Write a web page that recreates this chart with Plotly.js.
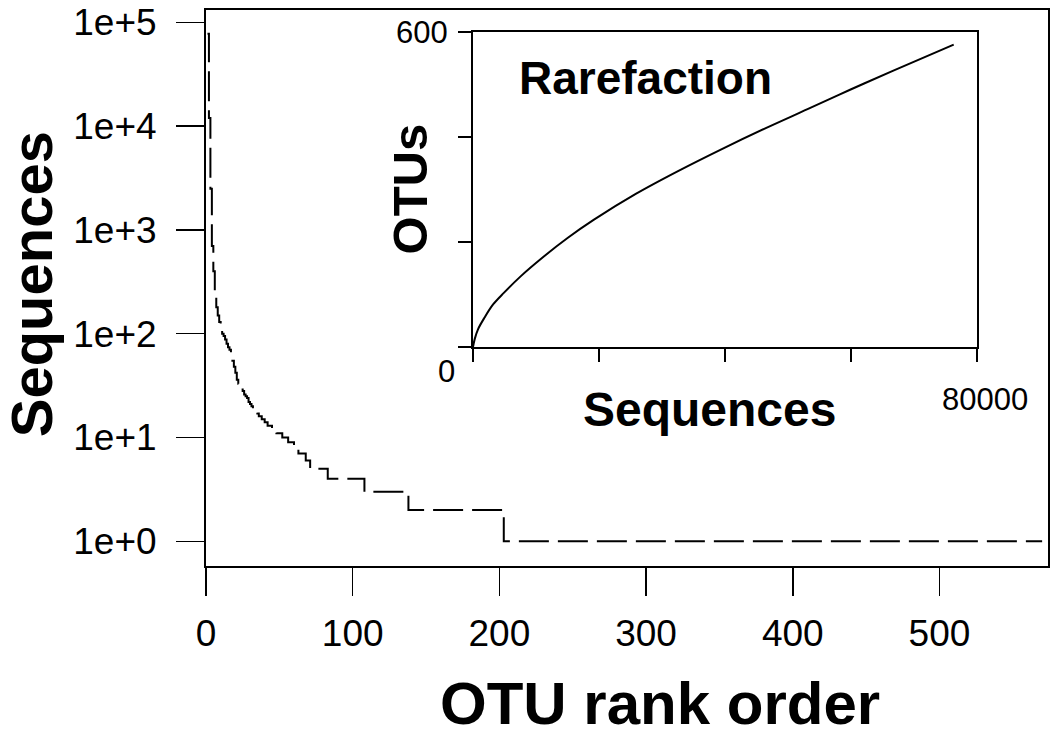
<!DOCTYPE html>
<html>
<head>
<meta charset="utf-8">
<script src="https://cdn.plot.ly/plotly-3.0.1.min.js"></script>
<style>html,body{margin:0;padding:0;background:#fff}</style>
</head>
<body>
<div id="chart" style="width:1050px;height:737px"></div>
<script>
// sequences per OTU for the most abundant OTUs, one value per rank
var topCounts = [78000, 12000, 2500, 700, 400, 250, 180, 150, 130, 110,
                 100, 95, 88, 80, 74, 70, 62, 55, 48, 42,
                 36, 33, 30, 29, 28, 26, 25, 24, 22, 21,
                 20, 19, 18, 18, 17, 16, 16, 15, 15, 14,
                 14, 13, 13, 13, 12, 12, 12, 11, 11, 11,
                 11, 10, 10, 10, 10, 9, 9, 9, 9, 8,
                 8, 8, 7, 7, 7, 7, 7];
// the long tail, as runs of equal counts ending at the given rank
var tailCounts = [6, 5, 4, 3, 2, 1];
var tailLastRank = [70, 82, 107, 137, 202, 570];

// inset rarefaction curve
var rareSeqs = [0, 270, 810, 1830, 3190, 4890, 7600, 11000, 15060, 19140, 25900, 32700, 39500, 46300, 53100, 59850, 66630, 76300];
var rareOtus = [0, 15, 34, 56, 81, 103, 135, 170, 208, 242, 292, 336, 377, 416, 453, 490, 526, 576];

var yTicks = [1, 10, 100, 1000, 10000, 100000];
var yTickText = ['1e+0', '1e+1', '1e+2', '1e+3', '1e+4', '1e+5'];
var xTicks = [0, 100, 200, 300, 400, 500];

var rank = [], seqs = [];
topCounts.forEach(function (c, i) { rank.push(i + 1); seqs.push(c); });
var r = topCounts.length;
tailCounts.forEach(function (c, k) {
  while (r < tailLastRank[k]) { r++; rank.push(r); seqs.push(c); }
});

var font = 'Liberation Sans, Arial, Helvetica, sans-serif';

var trace1 = {
  type: 'scatter', mode: 'lines',
  x: rank, y: seqs,
  line: {shape: 'hv', color: '#000', width: 2, dash: '30px,9px'},
  hoverinfo: 'x+y'
};

var trace2 = {
  type: 'scatter', mode: 'lines',
  x: rareSeqs, y: rareOtus,
  xaxis: 'x2', yaxis: 'y2',
  line: {shape: 'spline', smoothing: 1, color: '#000', width: 2},
  hoverinfo: 'x+y'
};

var layout = {
  width: 1050, height: 737,
  margin: {l: 206, r: 2, t: 10, b: 171},
  showlegend: false,
  paper_bgcolor: '#fff', plot_bgcolor: '#fff',
  font: {family: font, color: '#000'},
  xaxis: {
    range: [0, 574], tickvals: xTicks,
    ticks: 'outside', ticklen: 28, tickwidth: 1.5, tickcolor: '#000',
    showline: true, linewidth: 2, linecolor: '#000', mirror: true,
    showgrid: false, zeroline: false,
    tickfont: {size: 37}, ticklabelstandoff: 6
  },
  yaxis: {
    type: 'log', range: [-0.2385, 5.12],
    tickvals: yTicks, ticktext: yTickText,
    ticks: 'outside', ticklen: 28, tickwidth: 1.5, tickcolor: '#000',
    showline: true, linewidth: 2, linecolor: '#000', mirror: true,
    showgrid: false, zeroline: false,
    tickfont: {size: 37}, ticklabelstandoff: 12,
    ticklabeloverflow: 'allow'
  },
  xaxis2: {
    domain: [0.3171, 0.9157], anchor: 'y2',
    range: [0, 80000], tickvals: [0, 20000, 40000, 60000, 80000],
    ticktext: ['', '', '', '', ''],
    ticks: 'outside', ticklen: 13, tickwidth: 1.5, tickcolor: '#000',
    showline: true, linewidth: 2, linecolor: '#000', mirror: true,
    showgrid: false, zeroline: false
  },
  yaxis2: {
    domain: [0.3939, 0.9604], anchor: 'x2',
    range: [0, 600], tickvals: [0, 200, 400, 600],
    ticktext: ['', '', '', '600'],
    ticks: 'outside', ticklen: 13, tickwidth: 1.5, tickcolor: '#000',
    showline: true, linewidth: 2, linecolor: '#000', mirror: true,
    showgrid: false, zeroline: false,
    tickfont: {size: 31}, ticklabelstandoff: 4
  },
  annotations: [
    {text: '<b>OTU rank order</b>', xref: 'paper', yref: 'paper',
     x: 0.539, y: -0.2473, xanchor: 'center', yanchor: 'middle',
     showarrow: false, font: {size: 60}},
    {text: '<b>Sequences</b>', xref: 'paper', yref: 'paper',
     x: -0.2078, y: 0.5067, xanchor: 'center', yanchor: 'middle', textangle: -90,
     showarrow: false, font: {size: 58}},
    {text: '<b>Rarefaction</b>', xref: 'paper', yref: 'paper',
     x: 0.3694, y: 0.8777, xanchor: 'left', yanchor: 'middle',
     showarrow: false, font: {size: 46}},
    {text: '<b>Sequences</b>', xref: 'paper', yref: 'paper',
     x: 0.598, y: 0.2806, xanchor: 'center', yanchor: 'middle',
     showarrow: false, font: {size: 48}},
    {text: '<b>OTUs</b>', xref: 'paper', yref: 'paper',
     x: 0.242, y: 0.6786, xanchor: 'center', yanchor: 'middle', textangle: -90,
     showarrow: false, font: {size: 49}},
    {text: '0', xref: 'paper', yref: 'paper',
     x: 0.2862, y: 0.3499, xanchor: 'center', yanchor: 'middle',
     showarrow: false, font: {size: 31}},
    {text: '80000', xref: 'paper', yref: 'paper',
     x: 0.925, y: 0.2996, xanchor: 'center', yanchor: 'middle',
     showarrow: false, font: {size: 31}}
  ]
};

Plotly.newPlot('chart', [trace1, trace2], layout, {displayModeBar: false, staticPlot: true});
</script>
</body>
</html>
